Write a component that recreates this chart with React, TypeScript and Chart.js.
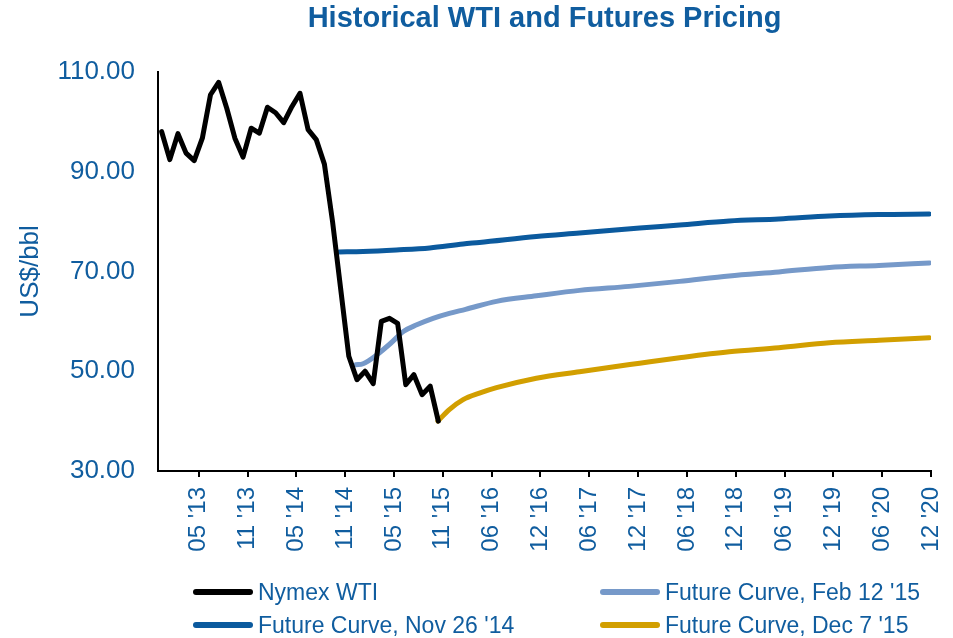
import React, { useEffect, useRef } from "react";
import { Chart, registerables } from "chart.js";

Chart.register(...registerables);

// x axis unit: months since Dec '12 (tick every 6 periods)
const tickPositions = [5, 11, 17, 23, 29, 35, 41, 47, 53, 59, 65, 71, 77, 83, 89, 95];
const tickLabels = [
  "05 '13", "11 '13", "05 '14", "11 '14", "05 '15", "11 '15", "06 '16", "12 '16",
  "06 '17", "12 '17", "06 '18", "12 '18", "06 '19", "12 '19", "06 '20", "12 '20",
];

// Nymex WTI monthly prices (first month sits at 0.45)
const WTI_START = 0.45;
const wtiValues = [
  98.0, 92.4, 97.6, 93.7, 92.2, 96.7, 105.4, 107.9, 102.7, 96.7, 92.9, 98.7,
  97.7, 102.9, 101.8, 99.8, 103.0, 105.7, 98.4, 96.4, 91.5, 80.0, 66.5, 53.0,
  48.3, 50.0, 47.5, 60.0, 60.6, 59.6, 47.3, 49.3, 45.3, 47.0, 40.0,
];

// Future Curve, Nov 26 '14
const novMonths = [22.25, 25.2, 29.3, 33.4, 37.5, 39.5, 46.5, 51.8, 59.2, 64.1, 70.2, 76.3, 82.5, 88.6, 94.8];
const novValues = [73.9, 74.0, 74.3, 74.7, 75.5, 75.8, 77.0, 77.7, 78.7, 79.3, 80.1, 80.5, 81.1, 81.4, 81.5];

// Future Curve, Feb 12 '15
const febMonths = [24.3, 25.2, 26.9, 28.6, 30.2, 31.8, 33.8, 35.8, 37.8, 41.6, 46.5, 51.8, 57.9, 64.1, 70.2, 76.3, 82.5, 88.6, 94.8];
const febValues = [51.3, 51.5, 53.3, 55.6, 58.0, 59.3, 60.6, 61.6, 62.4, 64.0, 65.1, 66.2, 67.0, 68.0, 69.1, 69.9, 70.8, 71.2, 71.7];

// Future Curve, Dec 7 '15
const decMonths = [34.4, 35.8, 37.5, 39.5, 41.6, 46.5, 51.8, 59.2, 64.1, 70.2, 76.3, 82.5, 88.6, 94.8];
const decValues = [40.0, 42.3, 44.3, 45.6, 46.7, 48.6, 49.9, 51.6, 52.7, 53.9, 54.7, 55.7, 56.2, 56.7];

const yTicks = [30, 50, 70, 90, 110];

const TEXT_BLUE = "#105D9F";
const FONT = "'Liberation Sans', Arial, sans-serif";

const series = [
  { label: "Nymex WTI", color: "#000000" },
  { label: "Future Curve, Nov 26 '14", color: "#0B5A9E" },
  { label: "Future Curve, Feb 12 '15", color: "#7699C9" },
  { label: "Future Curve, Dec 7 '15", color: "#D29F00" },
];

function pts(xs: number[], ys: number[]) {
  return ys.map((y, i) => ({ x: xs[i], y }));
}

export default function App() {
  const ref = useRef<HTMLCanvasElement | null>(null);

  useEffect(() => {
    const canvas = ref.current;
    if (!canvas) return;
    const wtiMonths = wtiValues.map((_, i) => WTI_START + i);
    const common = {
      pointRadius: 0,
      borderWidth: 5,
      borderCapStyle: "round" as const,
      borderJoinStyle: "round" as const,
      fill: false,
    };
    const chart = new Chart(canvas, {
      type: "line",
      data: {
        datasets: [
          { ...common, label: series[0].label, borderColor: series[0].color, data: pts(wtiMonths, wtiValues), tension: 0 },
          { ...common, label: series[1].label, borderColor: series[1].color, data: pts(novMonths, novValues), cubicInterpolationMode: "monotone" },
          { ...common, label: series[2].label, borderColor: series[2].color, data: pts(febMonths, febValues), cubicInterpolationMode: "monotone" },
          { ...common, label: series[3].label, borderColor: series[3].color, data: pts(decMonths, decValues), cubicInterpolationMode: "monotone" },
        ],
      },
      options: {
        animation: false,
        responsive: false,
        maintainAspectRatio: false,
        layout: { padding: { left: 0, right: 22, top: 0, bottom: 0 } },
        plugins: {
          legend: { display: false },
          tooltip: { enabled: false },
          title: {
            display: true,
            fullSize: false,
            text: "Historical WTI and Futures Pricing",
            color: TEXT_BLUE,
            font: { family: FONT, size: 29, weight: "bold" },
            padding: { top: 2, bottom: 35 },
          },
        },
        scales: {
          x: {
            type: "linear",
            min: 0,
            max: 95,
            afterBuildTicks: (scale: any) => {
              scale.ticks = tickPositions.map((v) => ({ value: v }));
            },
            afterFit: (scale: any) => {
              scale.height = 167;
              scale.paddingLeft = 0;
              scale.paddingRight = 0;
            },
            ticks: {
              autoSkip: false,
              minRotation: 90,
              maxRotation: 90,
              padding: 10,
              color: TEXT_BLUE,
              font: { family: FONT, size: 24 },
              callback: (v: any) => {
                const i = tickPositions.indexOf(Number(v));
                return i >= 0 ? tickLabels[i] : "";
              },
            },
            grid: {
              display: true,
              drawOnChartArea: false,
              drawTicks: true,
              tickLength: 6,
              color: "#000000",
              lineWidth: 2,
            },
            border: { display: true, color: "#000000", width: 2 },
          },
          y: {
            type: "linear",
            min: 30,
            max: 110,
            afterBuildTicks: (scale: any) => {
              scale.ticks = yTicks.map((v) => ({ value: v }));
            },
            afterFit: (scale: any) => {
              scale.width = 158;
            },
            ticks: {
              padding: 15,
              color: TEXT_BLUE,
              font: { family: FONT, size: 26 },
              callback: (v: any) => Number(v).toFixed(2),
            },
            grid: { display: false },
            border: { display: true, color: "#000000", width: 2 },
            title: {
              display: true,
              text: "US$/bbl",
              color: TEXT_BLUE,
              font: { family: FONT, size: 26 },
              padding: { top: 15, bottom: 0 },
            },
          },
        },
      },
    } as any);
    return () => chart.destroy();
  }, []);

  const legendCols = [
    [series[0], series[1]],
    [series[2], series[3]],
  ];
  const colLeft = [193, 600];
  const rowCenter = [592, 625];

  return (
    <div style={{ position: "absolute", left: 0, top: 0, width: 953, height: 638, background: "#ffffff", fontFamily: FONT }}>
      <canvas ref={ref} width={953} height={638} style={{ position: "absolute", left: 0, top: 0, width: 953, height: 638 }} />
      {legendCols.map((col, ci) =>
        col.map((s, ri) => (
          <div
            key={s.label}
            style={{
              position: "absolute",
              left: colLeft[ci],
              top: rowCenter[ri] - 15,
              height: 30,
              display: "flex",
              alignItems: "center",
              whiteSpace: "nowrap",
            }}
          >
            <span style={{ display: "inline-block", width: 60, height: 6, borderRadius: 3, background: s.color, marginRight: 5 }} />
            <span style={{ color: TEXT_BLUE, fontSize: 23, lineHeight: "30px" }}>{s.label}</span>
          </div>
        ))
      )}
    </div>
  );
}
